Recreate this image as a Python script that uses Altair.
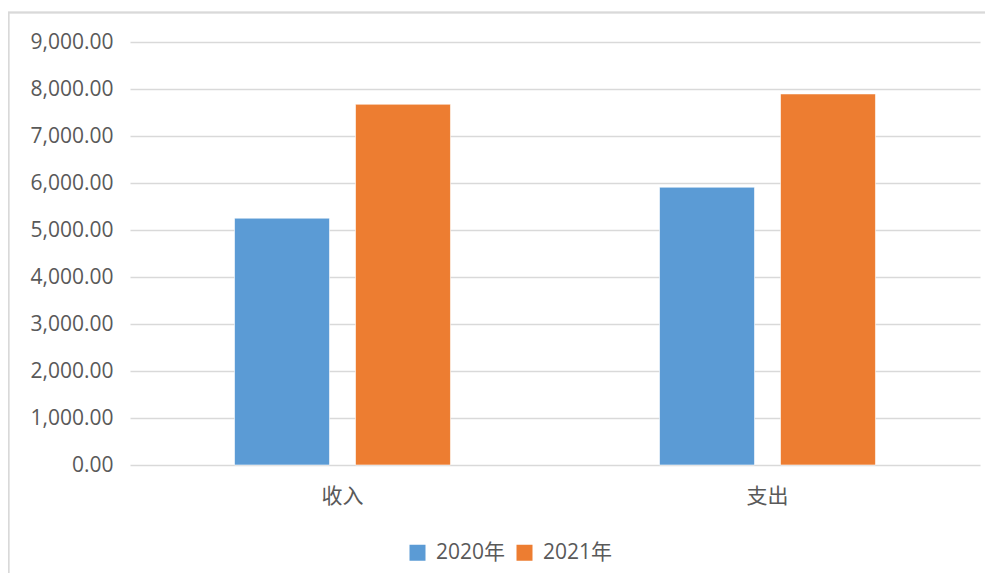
import altair as alt
import pandas as pd

categories = ["收入", "支出"]
series = ["2020年", "2021年"]
values_2020 = [5252, 5911]
values_2021 = [7676, 7895]
y_ticks = [0, 1000, 2000, 3000, 4000, 5000, 6000, 7000, 8000, 9000]
colors = ["#5B9BD5", "#ED7D31"]

rows = []
for i, c in enumerate(categories):
    rows.append({"类别": c, "年份": series[0], "金额": values_2020[i]})
    rows.append({"类别": c, "年份": series[1], "金额": values_2021[i]})
df = pd.DataFrame(rows)

FONT = "Open Sans, Noto Sans CJK SC"
TXT = "#595959"
GRID = "#D9D9D9"

bars = alt.Chart(df).mark_bar(stroke="white", strokeWidth=0.6).encode(
    x=alt.X("类别:N", sort=categories, title=None,
            scale=alt.Scale(paddingInner=0, paddingOuter=0),
            axis=alt.Axis(labelAngle=0, domain=False, ticks=False, labelPadding=20,
                          labelFontSize=21, labelColor=TXT, labelFont="Noto Sans CJK SC",
                          grid=False)),
    xOffset=alt.XOffset("年份:N", sort=series,
                        scale=alt.Scale(paddingInner=0.215, paddingOuter=0.864)),
    y=alt.Y("金额:Q", title=None,
            scale=alt.Scale(domain=[0, 9000], nice=False),
            axis=alt.Axis(values=y_ticks, format=",.2f", domain=False, ticks=False,
                          labelPadding=17, labelFontSize=21, labelColor=TXT, labelFont=FONT,
                          gridColor=GRID, gridWidth=1.4)),
    color=alt.Color("年份:N", sort=series, title=None,
                    scale=alt.Scale(domain=series, range=colors),
                    legend=alt.Legend(orient="none", legendX=277, legendY=500,
                                      direction="horizontal", symbolType="square",
                                      symbolSize=256, symbolStrokeWidth=0,
                                      labelFontSize=21, labelColor=TXT, labelFont=FONT,
                                      labelOffset=8, columnPadding=8)),
)

frame_top = alt.Chart(df).mark_rule(color=GRID, strokeWidth=1.5).encode(
    x=alt.value(-122), x2=alt.value(860), y=alt.value(-29.5)
)
frame_left = alt.Chart(df).mark_rule(color=GRID, strokeWidth=1.5).encode(
    x=alt.value(-121.5), y=alt.value(-29.5), y2=alt.value(540)
)

chart = alt.layer(frame_top, frame_left, bars).properties(
    width=850, height=423,
    autosize=alt.AutoSizeParams(type="none"),
    padding={"left": 122, "top": 34, "right": 5, "bottom": 108},
).configure(background="white", view=alt.ViewConfig(stroke=None))

chart.save("out.html", embed_options={"renderer": "svg", "actions": False})
